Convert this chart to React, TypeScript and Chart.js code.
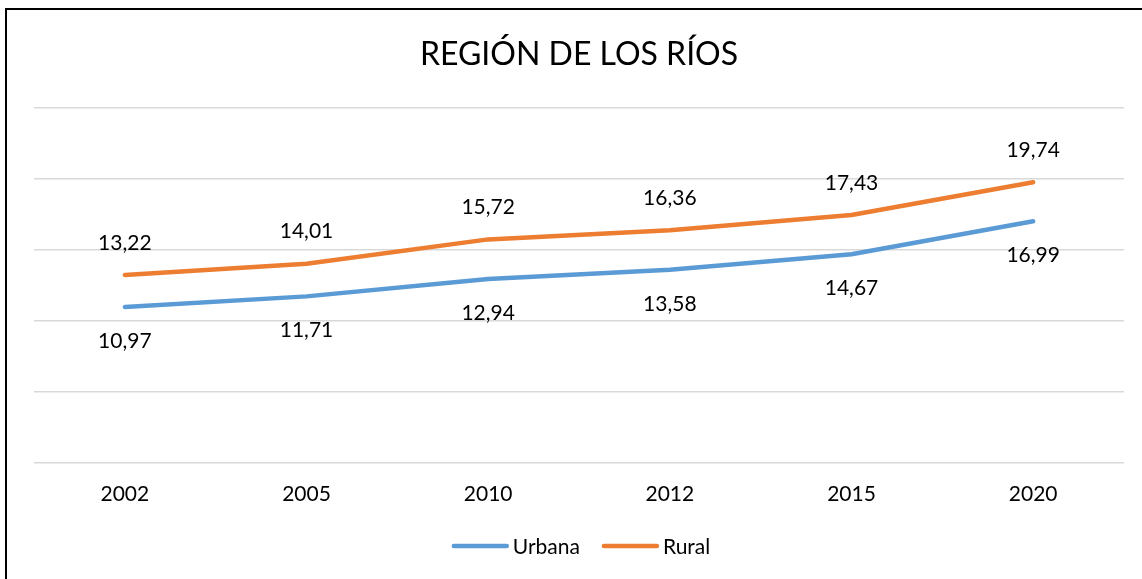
import React, { useEffect, useRef } from "react";
import { Chart, registerables } from "chart.js";

Chart.register(...registerables);

const chartTitle = "REGIÓN DE LOS RÍOS";
const categories = ["2002", "2005", "2010", "2012", "2015", "2020"];
const urbana = [10.97, 11.71, 12.94, 13.58, 14.67, 16.99];
const rural = [13.22, 14.01, 15.72, 16.36, 17.43, 19.74];
const seriesNames = ["Urbana", "Rural"];
const seriesColors = ["#5B9BD5", "#ED7D31"];
const yMin = 0;
const yMax = 25;
const yStep = 5;

const FONT = "Lato, 'Open Sans', sans-serif";

const fmt = (v: number) => v.toFixed(2).replace(".", ",");

const customPlugin = {
  id: "custom",
  afterDatasetsDraw(chart: any) {
    const ctx = chart.ctx;
    ctx.save();
    ctx.font = `21px ${FONT}`;
    ctx.fillStyle = "#000";
    ctx.textAlign = "center";
    ctx.textBaseline = "middle";
    chart.data.datasets.forEach((ds: any, di: number) => {
      const meta = chart.getDatasetMeta(di);
      meta.data.forEach((pt: any, i: number) => {
        const v = ds.data[i] as number;
        const y = di === 0 ? pt.y + 34 : pt.y - 32;
        ctx.fillText(fmt(v), pt.x, y);
      });
    });
    ctx.restore();
  },
  afterDraw(chart: any) {
    const ctx = chart.ctx;
    const area = chart.chartArea;
    const cx = (area.left + area.right) / 2;
    ctx.save();
    // title
    ctx.font = `32px ${FONT}`;
    ctx.fillStyle = "#000";
    ctx.textAlign = "center";
    ctx.textBaseline = "alphabetic";
    ctx.fillText(chartTitle, cx, 65);
    // legend
    ctx.font = `21px ${FONT}`;
    const lineW = 57;
    const gap = 4;
    const itemGap = 22;
    const widths = seriesNames.map((n) => lineW + gap + ctx.measureText(n).width);
    const total = widths.reduce((a, b) => a + b, 0) + itemGap * (widths.length - 1);
    let x = cx + 2 - total / 2;
    const ly = 546;
    seriesNames.forEach((n, i) => {
      ctx.strokeStyle = seriesColors[i];
      ctx.lineWidth = 4.5;
      ctx.lineCap = "round";
      ctx.beginPath();
      ctx.moveTo(x + 2, ly);
      ctx.lineTo(x + lineW - 2, ly);
      ctx.stroke();
      ctx.fillStyle = "#000";
      ctx.textAlign = "left";
      ctx.textBaseline = "middle";
      ctx.fillText(n, x + lineW + gap, ly + 1);
      x += widths[i] + itemGap;
    });
    ctx.restore();
  },
};

export default function App() {
  const ref = useRef<HTMLCanvasElement | null>(null);
  useEffect(() => {
    if (!ref.current) return;
    const chart = new Chart(ref.current, {
      type: "line",
      data: {
        labels: categories,
        datasets: [
          {
            label: seriesNames[0],
            data: urbana,
            borderColor: seriesColors[0],
            backgroundColor: seriesColors[0],
            borderWidth: 4.5,
            borderCapStyle: "round",
            borderJoinStyle: "round",
            pointRadius: 0,
            tension: 0,
          },
          {
            label: seriesNames[1],
            data: rural,
            borderColor: seriesColors[1],
            backgroundColor: seriesColors[1],
            borderWidth: 4.5,
            borderCapStyle: "round",
            borderJoinStyle: "round",
            pointRadius: 0,
            tension: 0,
          },
        ],
      },
      options: {
        responsive: false,
        maintainAspectRatio: false,
        animation: false,
        layout: { padding: { left: 34, right: 18, top: 107.5, bottom: 53 } },
        plugins: {
          legend: { display: false },
          title: { display: false },
          tooltip: { enabled: false },
        },
        scales: {
          x: {
            offset: true,
            grid: { display: false, drawTicks: false },
            border: { display: false },
            ticks: { color: "#000", font: { family: FONT, size: 21 }, padding: 19 },
          },
          y: {
            min: yMin,
            max: yMax,
            ticks: { display: false, stepSize: yStep },
            grid: { color: "#D9D9D9", lineWidth: 1.5, drawTicks: false },
            border: { display: false },
          },
        },
      },
      plugins: [customPlugin],
    });
    return () => chart.destroy();
  }, []);

  return (
    <div style={{ position: "fixed", left: 0, top: 0, width: 1142, height: 579, overflow: "hidden", background: "#fff" }}>
      <canvas ref={ref} width={1142} height={579} style={{ position: "absolute", left: 0, top: 0, width: 1142, height: 579 }} />
      <div
        style={{
          position: "absolute",
          left: 5,
          top: 8,
          width: 1200,
          height: 600,
          border: "2px solid #000",
          pointerEvents: "none",
        }}
      />
    </div>
  );
}
